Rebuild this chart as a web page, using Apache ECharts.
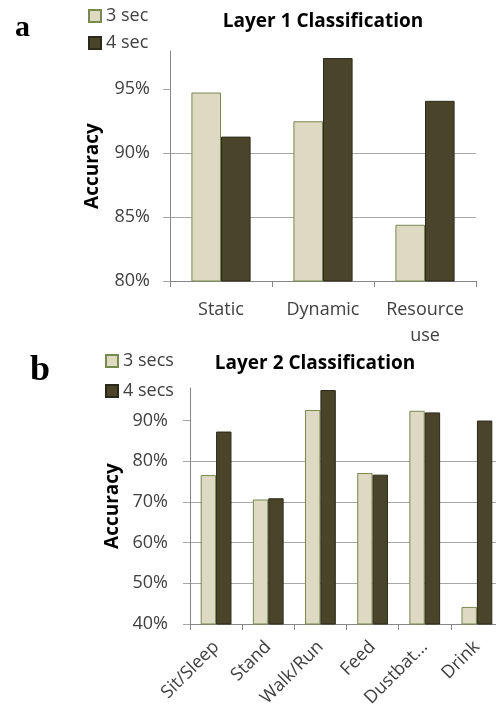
<!DOCTYPE html>
<html>
<head>
<meta charset="utf-8">
<script src="https://cdn.jsdelivr.net/npm/echarts@6/dist/echarts.min.js"></script>
<style>
html,body{margin:0;padding:0;background:#fff;}
#chart{width:496px;height:705px;}
</style>
</head>
<body>
<div id="chart"></div>
<script>
// Panel a data
const catsA = ['Static', 'Dynamic', 'Resource\nuse'];
const a3sec = [94.75, 92.5, 84.4];
const a4sec = [91.3, 97.45, 94.1];
const ticksA = [80, 85, 90, 95];
// Panel b data
const catsB = ['Sit/Sleep', 'Stand', 'Walk/Run', 'Feed', 'Dustbat...', 'Drink'];
const b3secs = [76.6, 70.6, 92.6, 77.1, 92.4, 44.2];
const b4secs = [87.3, 70.9, 97.5, 76.7, 92.0, 90.0];
const ticksB = [40, 50, 60, 70, 80, 90];

const FONT = '"Open Sans", sans-serif';
const TXT = '#404040';
const GRID = '#a6a6a6';
const AXIS = '#868686';
const LIGHT = { color: '#ddd9c3', borderColor: '#77894f', borderWidth: 1 };
const DARK = { color: '#4a452a', borderColor: '#2b2919', borderWidth: 1 };

const chart = echarts.init(document.getElementById('chart'), null, { renderer: 'canvas' });

function yAx(gi, min, max, interval, ticks, fs, nameGap, margin) {
  return {
    type: 'value', gridIndex: gi, min: min, max: max, interval: interval,
    name: 'Accuracy', nameLocation: 'middle', nameRotate: 90, nameGap: nameGap,
    nameTextStyle: { fontFamily: FONT, fontWeight: 'bold', fontSize: 19, color: '#000' },
    axisLine: { show: true, lineStyle: { color: AXIS, width: 1 } },
    axisTick: { show: true, length: 7, lineStyle: { color: GRID }, customValues: ticks },
    axisLabel: { fontFamily: FONT, fontSize: fs, color: TXT, margin: margin, customValues: ticks,
      formatter: v => v + '%' },
    splitLine: { show: true, showMaxLine: false, lineStyle: { color: GRID, width: 1 } }
  };
}

const option = {
  animation: false,
  backgroundColor: '#fff',
  title: [
    { text: 'a', left: 10, top: 8, textStyle: { fontFamily: '"Liberation Serif", serif', fontWeight: 'bold', fontSize: 30, color: '#000' } },
    { text: 'b', left: 25, top: 348, textStyle: { fontFamily: '"Liberation Serif", serif', fontWeight: 'bold', fontSize: 36, color: '#000' } },
    { text: 'Layer 1 Classification', left: 318, top: 7, textAlign: 'center', textStyle: { fontFamily: FONT, fontWeight: 'bold', fontSize: 19, color: '#000' } },
    { text: 'Layer 2 Classification', left: 310, top: 349, textAlign: 'center', textStyle: { fontFamily: FONT, fontWeight: 'bold', fontSize: 19, color: '#000' } }
  ],
  legend: [
    { data: ['3 sec', '4 sec'], orient: 'vertical', left: 83, top: 2, itemWidth: 12, itemHeight: 12, itemGap: 9,
      icon: 'rect', textStyle: { fontFamily: FONT, fontSize: 18, color: TXT } },
    { data: ['3 secs', '4 secs'], orient: 'vertical', left: 100, top: 347, itemWidth: 12, itemHeight: 12, itemGap: 12,
      icon: 'rect', textStyle: { fontFamily: FONT, fontSize: 18, color: TXT } }
  ],
  grid: [
    { left: 170, top: 51, width: 306, height: 230, containLabel: false, outerBoundsMode: 'none' },
    { left: 190, top: 388, width: 313, height: 236, containLabel: false, outerBoundsMode: 'none' }
  ],
  xAxis: [
    { type: 'category', gridIndex: 0, data: catsA,
      axisLine: { lineStyle: { color: AXIS } },
      axisTick: { show: true, length: 6, lineStyle: { color: AXIS } },
      axisLabel: { fontFamily: FONT, fontSize: 18, color: TXT, margin: 16, lineHeight: 26, interval: 0 } },
    { type: 'category', gridIndex: 1, data: catsB,
      axisLine: { lineStyle: { color: AXIS } },
      axisTick: { show: true, length: 6, lineStyle: { color: AXIS } },
      axisLabel: { fontFamily: FONT, fontSize: 18, color: TXT, margin: 20, rotate: 45, interval: 0 } }
  ],
  yAxis: [
    yAx(0, 80, 98, 5, ticksA, 18, 68, 20),
    yAx(1, 40, 98, 10, ticksB, 18, 68, 22)
  ],
  series: [
    { name: '3 sec', type: 'bar', xAxisIndex: 0, yAxisIndex: 0, data: a3sec, itemStyle: LIGHT, barGap: '0%', barCategoryGap: '42%' },
    { name: '4 sec', type: 'bar', xAxisIndex: 0, yAxisIndex: 0, data: a4sec, itemStyle: DARK, barGap: '0%', barCategoryGap: '42%' },
    { name: '3 secs', type: 'bar', xAxisIndex: 1, yAxisIndex: 1, data: b3secs, itemStyle: LIGHT, barGap: '0%', barCategoryGap: '41%' },
    { name: '4 secs', type: 'bar', xAxisIndex: 1, yAxisIndex: 1, data: b4secs, itemStyle: DARK, barGap: '0%', barCategoryGap: '41%' }
  ]
};
chart.setOption(option);
</script>
</body>
</html>
